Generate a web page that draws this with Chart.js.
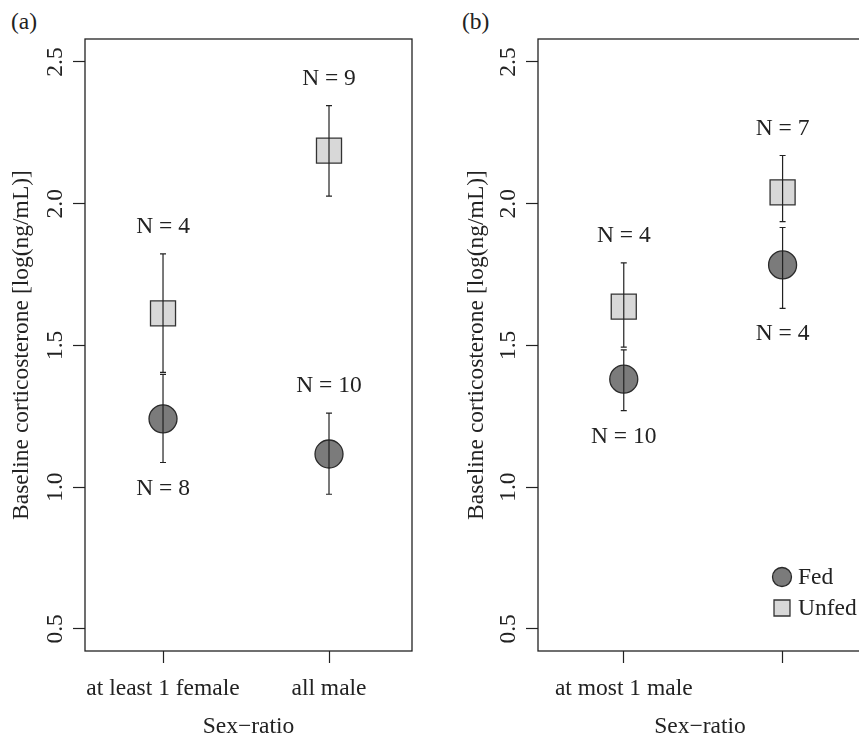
<!DOCTYPE html>
<html>
<head>
<meta charset="utf-8">
<title>Baseline corticosterone</title>
<script src="https://cdn.jsdelivr.net/npm/chart.js@4.4.1/dist/chart.umd.min.js"></script>
<style>
  html, body { margin: 0; padding: 0; background: #fff; overflow: hidden; }
  #wrap { position: relative; width: 859px; height: 736px; overflow: hidden; }
  .painel { position: absolute; top: 0; height: 760px; }
  #boxA { left: 0; width: 430px; }
  #boxB { left: 430px; width: 440px; }
  .letra { position: absolute; top: 8px; font: 23.5px "Liberation Serif", "Times New Roman", serif; color: #222; }
</style>
</head>
<body>
<div id="wrap">
  <div class="letra" style="left:11px">(a)</div>
  <div class="letra" style="left:462px">(b)</div>
  <div class="painel" id="boxA"><canvas id="graficoA" width="430" height="760" style="width:430px;height:760px"></canvas></div>
  <div class="painel" id="boxB"><canvas id="graficoB" width="440" height="760" style="width:440px;height:760px"></canvas></div>
</div>

<script>
/* DADOS - painel (a) */
const categoriasA = ["at least 1 female", "all male"];
const fedA = [1.241, 1.117];
const fedMinA = [1.087, 0.975];
const fedMaxA = [1.398, 1.261];
const fedNA = [8, 10];
const unfedA = [1.613, 2.187];
const unfedMinA = [1.405, 2.027];
const unfedMaxA = [1.823, 2.346];
const unfedNA = [4, 9];

/* DADOS - painel (b) */
const categoriasB = ["at most 1 male", ""];
const fedB = [1.381, 1.784];
const fedMinB = [1.270, 1.631];
const fedMaxB = [1.484, 1.916];
const fedNB = [10, 4];
const unfedB = [1.637, 2.040];
const unfedMinB = [1.494, 1.937];
const unfedMaxB = [1.791, 2.170];
const unfedNB = [4, 7];

/* EIXOS */
const posicoesX = [1, 2];
const ticksY = [0.5, 1.0, 1.5, 2.0, 2.5];

/* onde vai o "N = ..." (acima ou abaixo da barra) */
const ladoFedA = ["baixo", "cima"];
const ladoFedB = ["baixo", "baixo"];
const ladoUnfed = ["cima", "cima"];

const FONTE = '"Liberation Serif", "Times New Roman", serif';
const TAM = 23.5;
const COR = "#222";

Chart.defaults.font.family = FONTE;
Chart.defaults.font.size = TAM;
Chart.defaults.color = COR;

function montarPontos(vals, mins, maxs, ns, lados) {
  return posicoesX.map((x, i) => ({
    x: x, y: vals[i], lo: mins[i], hi: maxs[i], n: ns[i], lado: lados[i]
  }));
}

/* caixa, barras de erro, textos N e legenda */
const extras = {
  id: "extras",
  afterDatasetsDraw(chart, args, opts) {
    const { ctx, chartArea: a, scales: { x, y } } = chart;
    ctx.save();

    ctx.strokeStyle = COR;
    ctx.lineWidth = 1.3;
    ctx.strokeRect(a.left, a.top, a.right - a.left, a.bottom - a.top);

    ctx.font = TAM + "px " + FONTE;
    ctx.fillStyle = COR;
    ctx.textAlign = "center";
    ctx.textBaseline = "middle";

    chart.data.datasets.forEach(ds => {
      ds.data.forEach(p => {
        const px = x.getPixelForValue(p.x);
        const topo = y.getPixelForValue(p.hi);
        const base = y.getPixelForValue(p.lo);
        ctx.lineWidth = 1.2;
        ctx.beginPath();
        ctx.moveTo(px, topo); ctx.lineTo(px, base);
        ctx.moveTo(px - 3, topo); ctx.lineTo(px + 3, topo);
        ctx.moveTo(px - 3, base); ctx.lineTo(px + 3, base);
        ctx.stroke();

        const ty = p.lado === "cima" ? topo - 27 : base + 26;
        ctx.fillText("N = " + p.n, px, ty);
      });
    });

    if (opts.legenda) {
      const lx = a.right - 80;
      let ly = a.bottom - 74;
      chart.data.datasets.forEach(ds => {
        ctx.fillStyle = ds.backgroundColor;
        ctx.strokeStyle = ds.borderColor;
        ctx.lineWidth = 1.3;
        Chart.helpers.drawPoint(ctx, {
          pointStyle: ds.pointStyle,
          radius: ds.pointStyle === "circle" ? 9.5 : 11.3,
          borderWidth: 1.3
        }, lx, ly);
        ctx.fillStyle = COR;
        ctx.textAlign = "left";
        ctx.fillText(ds.label, lx + 16, ly + 1);
        ly += 31;
      });
    }
    ctx.restore();
  }
};

function criarGrafico(id, cfg) {
  return new Chart(document.getElementById(id), {
    type: "scatter",
    data: {
      datasets: [
        {
          label: "Fed",
          data: cfg.fed,
          pointStyle: "circle",
          pointRadius: 14,
          backgroundColor: "#7b7b7b",
          borderColor: "#2a2a2a",
          borderWidth: 1.3
        },
        {
          label: "Unfed",
          data: cfg.unfed,
          pointStyle: "rect",
          pointRadius: 17.7,
          backgroundColor: "#d8d8d8",
          borderColor: "#333",
          borderWidth: 1.3
        }
      ]
    },
    options: {
      responsive: false,
      animation: false,
      events: [],
      // sem autoPadding os pontos grandes nao encolhem a area
      layout: { autoPadding: false, padding: { top: 39, right: cfg.direita, left: 0, bottom: 0 } },
      plugins: {
        legend: { display: false },
        tooltip: { enabled: false },
        extras: { legenda: cfg.legenda }
      },
      scales: {
        x: {
          type: "linear",
          position: "bottom",
          min: cfg.xMin,
          max: cfg.xMax,
          afterBuildTicks: s => { s.ticks = posicoesX.map(v => ({ value: v })); },
          afterFit: s => {
            s.height = 109;
            s.paddingLeft = 0;
            s.paddingRight = 0;
          },
          ticks: {
            autoSkip: false,
            maxRotation: 0,
            padding: 12,
            callback: (v, i) => cfg.categorias[i]
          },
          grid: { drawOnChartArea: false, drawTicks: true, tickLength: 12, tickColor: COR, tickWidth: 1.2 },
          border: { display: false },
          title: { display: true, text: "Sex\u2212ratio", padding: { top: 0, bottom: 19 } }
        },
        y: {
          type: "linear",
          position: "left",
          min: 0.422,
          max: 2.581,
          afterBuildTicks: s => { s.ticks = ticksY.map(v => ({ value: v })); },
          afterFit: s => { s.width = cfg.larguraY; },
          ticks: {
            minRotation: 90,
            maxRotation: 90,
            crossAlign: "center",
            padding: 2,
            callback: v => v.toFixed(1)
          },
          grid: { drawOnChartArea: false, drawTicks: true, tickLength: 12, tickColor: COR, tickWidth: 1.2 },
          border: { display: false },
          title: { display: true, text: "Baseline corticosterone [log(ng/mL)]", padding: { top: cfg.tituloY, bottom: 0 } }
        }
      }
    },
    plugins: [extras]
  });
}

/* INIT */
criarGrafico("graficoA", {
  categorias: categoriasA,
  fed: montarPontos(fedA, fedMinA, fedMaxA, fedNA, ladoFedA),
  unfed: montarPontos(unfedA, unfedMinA, unfedMaxA, unfedNA, ladoUnfed),
  xMin: 0.53, xMax: 2.5,
  larguraY: 85, direita: 18, tituloY: 8,
  legenda: false
});

criarGrafico("graficoB", {
  categorias: categoriasB,
  fed: montarPontos(fedB, fedMinB, fedMaxB, fedNB, ladoFedB),
  unfed: montarPontos(unfedB, unfedMinB, unfedMaxB, unfedNB, ladoUnfed),
  xMin: 0.46, xMax: 2.5,
  larguraY: 108, direita: 8, tituloY: 33,
  legenda: true
});
</script>
</body>
</html>
